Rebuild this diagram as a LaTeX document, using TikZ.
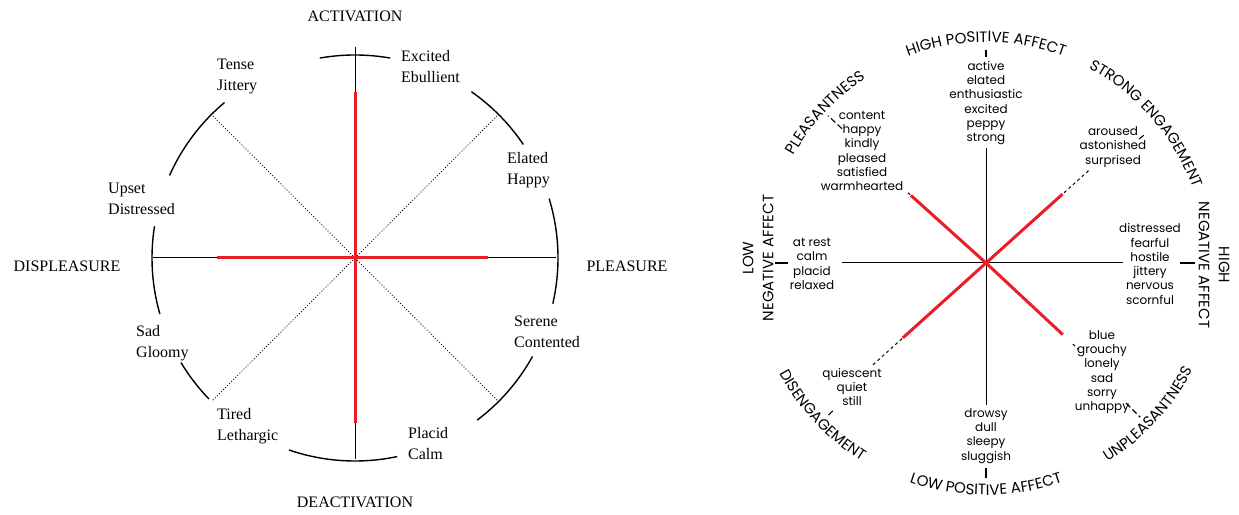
\documentclass[tikz,border=0pt]{standalone}
\usepackage{fontspec}
\setmainfont{Liberation Serif}
\newfontfamily\gothic{Poppins}
\usetikzlibrary{decorations.text}
\definecolor{axisred}{RGB}{234,30,38}
\newcommand\capsfont{\gothic\fontsize{15}{20}\selectfont}
\tikzset{axis/.style={draw=black,line width=1pt}}
\tikzset{redaxis/.style={draw=axisred,line width=3pt}}
\tikzset{rim/.style={draw=black,line width=1.4pt}}

\begin{document}
\begin{tikzpicture}[x=1pt,y=1pt]
    \tikzstyle{mood}=[align=left,anchor=west,inner sep=0pt,font=\fontsize{16}{21}\selectfont]
    \tikzstyle{pole}=[inner sep=0pt,font=\fontsize{16}{19}\selectfont]
    \tikzstyle{words}=[align=center,inner sep=0pt,font=\gothic\fontsize{12}{14.3}\selectfont]
    \tikzstyle{affect}=[align=center,inner sep=0pt,font=\capsfont]
    \tikzstyle{tick}=[draw=black,line width=1.1pt]
    \useasboundingbox (0,0) rectangle (1239,514);

    % left circumplex
    \coordinate (lc) at (355,256);
    \coordinate (ltop) at (355,467);
    \coordinate (lbot) at (355,55);
    \coordinate (lleft) at (153,256);
    \coordinate (lright) at (556,256);
    \foreach \a/\b in {80/100,34/55,-13/17,-53/-29,-109/-78,211/224,171/196,130/156}
        \draw[rim] ([shift={(\a:203)}]lc) arc[start angle=\a,end angle=\b,radius=203];
    \draw[axis] (ltop) -- (lbot);
    \draw[axis] (lleft) -- (lright);
    \foreach \a in {45,135,225,315}
        \draw[dotted,line width=0.9pt] (lc) -- ([shift={(\a:201)}]lc);
    \coordinate (lrt) at (355,422);
    \coordinate (lrb) at (355,91);
    \coordinate (lrl) at (217,256);
    \coordinate (lrr) at (488,256);
    \draw[redaxis] (lrt) -- (lrb);
    \draw[redaxis] (lrl) -- (lrr);

    \node[pole] (act) at (355,498) {ACTIVATION};
    \node[pole] (deact) at (355,12) {DEACTIVATION};
    \node[pole] (displ) at (67,248) {DISPLEASURE};
    \node[pole] (pleas) at (627,248) {PLEASURE};
    \node[mood] (excited) at (401,447) {Excited\\Ebullient};
    \node[mood] (tense) at (217,438) {Tense\\Jittery};
    \node[mood] (elated) at (507,344) {Elated\\Happy};
    \node[mood] (upset) at (108,315) {Upset\\Distressed};
    \node[mood] (sad) at (136,171) {Sad\\Gloomy};
    \node[mood] (serene) at (514,182) {Serene\\Contented};
    \node[mood] (tired) at (217,88) {Tired\\Lethargic};
    \node[mood] (placid) at (408,70) {Placid\\Calm};

    % right circumplex
    \coordinate (rc) at (986,251);
    \coordinate (rtop) at (986,366);
    \coordinate (rbot) at (986,109);
    \coordinate (rleft) at (842,251);
    \coordinate (rright) at (1123,251);
    \draw[axis] (rtop) -- (rbot);
    \draw[axis] (rleft) -- (rright);
    \foreach \a/\r in {42/103,138/101,222/112,317/105}
        \draw[redaxis] (rc) -- ([shift={(\a:\r)}]rc);
    \foreach \a/\ra/\rb in {42/105/139,138/102/108,222/113/152,317/119/127}
        \draw[axis,dashed] ([shift={(\a:\ra)}]rc) -- ([shift={(\a:\rb)}]rc);
    \foreach \a/\ra/\rb in {90/206/213,270/205/215,180/198/211,0/194/209}
        \draw[tick] ([shift={(\a:\ra)}]rc) -- ([shift={(\a:\rb)}]rc);
    \foreach \a/\ra/\rb in {137/197/216,39/197/206,224/213/221,315/198/218}
        \draw[tick,dash pattern=on 6pt off 3pt] ([shift={(\a:\ra)}]rc) -- ([shift={(\a:\rb)}]rc);

    \node[words] (hpa) at (986,411) {active\\elated\\enthusiastic\\excited\\peppy\\strong};
    \node[words] (pls) at (862,363) {content\\happy\\kindly\\pleased\\satisfied\\warmhearted};
    \node[words] (eng) at (1113,367) {aroused\\astonished\\surprised};
    \node[words] (lna) at (812,250) {at rest\\calm\\placid\\relaxed};
    \node[words] (hna) at (1150,250) {distressed\\fearful\\hostile\\jittery\\nervous\\scornful};
    \node[words] (unp) at (1102,142) {blue\\grouchy\\lonely\\sad\\sorry\\unhappy};
    \node[words] (dis) at (852,127) {quiescent\\quiet\\still};
    \node[words] (lpa) at (986,78) {drowsy\\dull\\sleepy\\sluggish};

    % curved headings
    \foreach \t/\s/\e/\r in {HIGH POSITIVE AFFECT/125/55/221,PLEASANTNESS/172/102/220,
        STRONG ENGAGEMENT/76/6/220,LOW POSITIVE AFFECT/235/305/232,
        DISENGAGEMENT/188/258/234,UNPLEASANTNESS/282/352/233}
        \path[decorate,decoration={text along path,text align=center,text={|\capsfont|\t}}]
            ([shift={(\s:\r)}]rc) arc[start angle=\s,end angle=\e,radius=\r];
    \node[affect,rotate=-90] (hnalab) at (1214,249) {HIGH\\NEGATIVE AFFECT};
    \node[affect,rotate=90] (lnalab) at (758,256) {LOW\\NEGATIVE AFFECT};
\end{tikzpicture}
\end{document}
